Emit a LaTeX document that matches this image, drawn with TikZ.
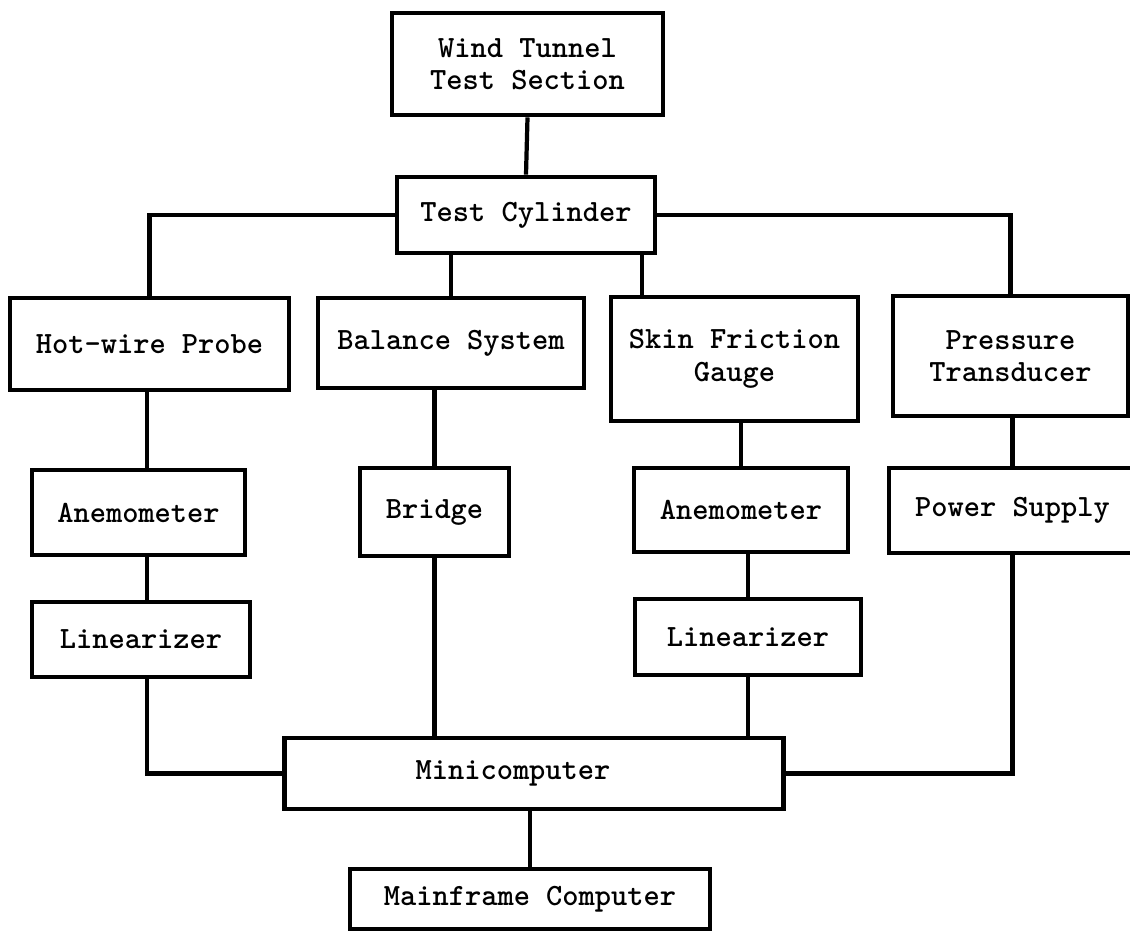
\documentclass[tikz,border=0pt]{standalone}
\usepackage{fontspec}
\newfontfamily\typer{lmmonolt10-bold.otf}
\begin{document}
\begin{tikzpicture}[x=0.02cm,y=-0.02cm,
	blk/.style={draw,line width=2.8pt,inner sep=0pt,align=center,
		font=\typer\fontsize{17.6}{18.5}\selectfont},
	wire/.style={line width=2.4pt}]
	\useasboundingbox (0,0) rectangle (1130,931);
	% top of the chain
	\node[blk,minimum width=5.42cm,minimum height=2.04cm] (wt) at (527.5,64) {Wind Tunnel\\Test Section};
	\node[blk,minimum width=5.16cm,minimum height=1.52cm] (cyl) at (526,215) {Test Cylinder};
	% sensors
	\node[blk,minimum width=5.58cm,minimum height=1.84cm] (hw) at (149.5,344) {Hot-wire Probe};
	\node[blk,minimum width=5.32cm,minimum height=1.80cm] (bal) at (451,343) {Balance System};
	\node[blk,minimum width=4.94cm,minimum height=2.48cm] (sf) at (734.5,359) {Skin Friction\\Gauge};
	\node[blk,minimum width=4.70cm,minimum height=2.40cm] (pt) at (1010.5,356) {Pressure\\Transducer};
	% signal conditioning
	\node[blk,minimum width=4.26cm,minimum height=1.70cm] (an1) at (138.5,512.5) {Anemometer};
	\node[blk,minimum width=2.98cm,minimum height=1.76cm] (br) at (434.5,512) {Bridge};
	\node[blk,minimum width=4.28cm,minimum height=1.68cm] (an2) at (741,510) {Anemometer};
	\node[blk,minimum width=4.94cm,minimum height=1.70cm] (ps) at (1012.5,510.5) {Power Supply};
	\node[blk,minimum width=4.36cm,minimum height=1.50cm] (li1) at (141,639.5) {Linearizer};
	\node[blk,minimum width=4.52cm,minimum height=1.52cm] (li2) at (748,637) {Linearizer};
	% computers
	\node[blk,minimum width=10.0cm,minimum height=1.42cm] (mini) at (534,773.5) {Minicomputer\hspace*{0.84cm}};
	\node[blk,minimum width=7.2cm,minimum height=1.2cm] (main) at (530,899) {Mainframe Computer};
	\coordinate (lcol) at (147,0);
	\coordinate (sfin) at (642,297);
	\draw[wire] (wt.south) -- (cyl.north);
	\draw[wire] (cyl.west) -| (hw.north);
	\draw[wire] (cyl.east) -| (pt.north);
	\draw[wire] (cyl.south -| bal.north) -- (bal.north);
	\draw[wire] (cyl.south -| sfin) -- (sfin);
	\draw[wire] (hw.south -| lcol) -- (an1.north -| lcol);
	\draw[wire] (an1.south -| lcol) -- (li1.north -| lcol);
	\draw[wire] (li1.south -| lcol) |- (mini.west);
	\draw[wire] (bal.south -| br.north) -- (br.north);
	\draw[wire] (br.south) -- (br.south |- mini.north);
	\draw[wire] (sf.south -| an2.north) -- (an2.north);
	\draw[wire] (an2.south -| li2.north) -- (li2.north);
	\draw[wire] (li2.south) -- (li2.south |- mini.north);
	\draw[wire] (pt.south -| ps.north) -- (ps.north);
	\draw[wire] (ps.south) |- (mini.east);
	\draw[wire] (main.north |- mini.south) -- (main.north);
\end{tikzpicture}
\end{document}
